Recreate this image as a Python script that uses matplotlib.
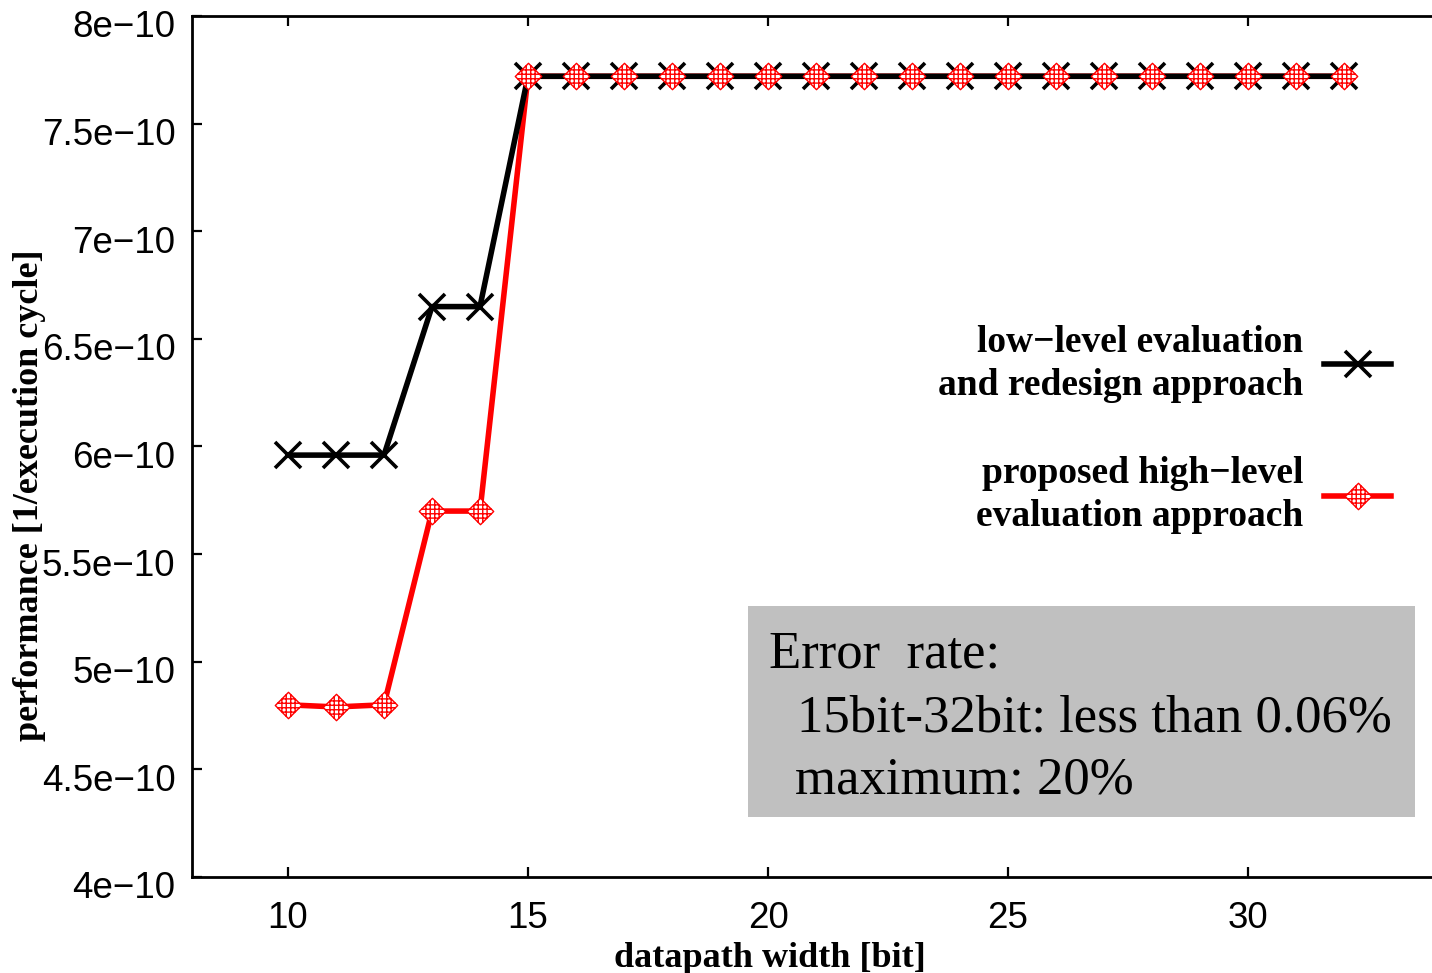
import numpy as np
import matplotlib
matplotlib.use("Agg")
import matplotlib.pyplot as plt
from matplotlib.path import Path
from matplotlib.patches import Rectangle
from matplotlib.ticker import FuncFormatter, FixedLocator
from matplotlib.transforms import ScaledTranslation
from matplotlib.legend_handler import HandlerTuple

# datapath width [bit] and performance [1/execution cycle]
width_bits = [10, 11, 12, 13, 14, 15, 16, 17, 18, 19, 20, 21,
              22, 23, 24, 25, 26, 27, 28, 29, 30, 31, 32]
low_level = [5.96e-10, 5.96e-10, 5.96e-10, 6.65e-10, 6.65e-10, 7.72e-10,
             7.72e-10, 7.72e-10, 7.72e-10, 7.72e-10, 7.72e-10, 7.72e-10,
             7.72e-10, 7.72e-10, 7.72e-10, 7.72e-10, 7.72e-10, 7.72e-10,
             7.72e-10, 7.72e-10, 7.72e-10, 7.72e-10, 7.72e-10]
high_level = [4.80e-10, 4.79e-10, 4.80e-10, 5.70e-10, 5.70e-10, 7.72e-10,
              7.72e-10, 7.72e-10, 7.72e-10, 7.72e-10, 7.72e-10, 7.72e-10,
              7.72e-10, 7.72e-10, 7.72e-10, 7.72e-10, 7.72e-10, 7.72e-10,
              7.72e-10, 7.72e-10, 7.72e-10, 7.72e-10, 7.72e-10]

x_ticks = [10, 15, 20, 25, 30]
y_ticks = [4e-10, 4.5e-10, 5e-10, 5.5e-10, 6e-10, 6.5e-10, 7e-10, 7.5e-10, 8e-10]

label_low = "low\u2212level evaluation\nand redesign approach"
label_high = "proposed high\u2212level\nevaluation approach"
note_lines = ["Error  rate:", "15bit-32bit: less than 0.06%", "maximum: 20%"]

# diamond with a grid inside, like gnuplot's hatched point
verts = [(0, 1), (1, 0), (0, -1), (-1, 0), (0, 1)]
codes = [Path.MOVETO, Path.LINETO, Path.LINETO, Path.LINETO, Path.CLOSEPOLY]
for c in (-0.5, -0.17, 0.17, 0.5):
    h = 1 - abs(c)
    verts += [(c, -h), (c, h), (-h, c), (h, c)]
    codes += [Path.MOVETO, Path.LINETO, Path.MOVETO, Path.LINETO]
grid_diamond = Path(verts, codes)

W, H = 1432, 973
fig = plt.figure(figsize=(W / 100, H / 100), dpi=100)
ax = fig.add_axes([192 / W, 96 / H, 1248 / W, 861 / H])

red_line, = ax.plot(width_bits, high_level, color="red", lw=4, zorder=2)
black, = ax.plot(width_bits, low_level, color="black", lw=4,
                 marker="x", ms=19, mew=2.6, zorder=3)
red_pts, = ax.plot(width_bits, high_level, ls="none", marker=grid_diamond,
                   ms=19, mfc="white", mec="red", mew=1.0, zorder=4)

ax.set_xlim(8, 34)
ax.set_ylim(4e-10, 8e-10)
ax.xaxis.set_major_locator(FixedLocator(x_ticks))
ax.yaxis.set_major_locator(FixedLocator(y_ticks))
ax.yaxis.set_major_formatter(FuncFormatter(lambda v, p: f"{v / 1e-10:g}e\u221210"))

for s in ax.spines.values():
    s.set_linewidth(2)
ax.tick_params(direction="in", length=7, width=1.6, top=True, right=False,
               labelsize=26.5, pad=12)
ax.tick_params(axis="x", pad=17)
for t in ax.get_xticklabels() + ax.get_yticklabels():
    t.set_family("Liberation Sans")
# gnuplot sets the y labels a little below their ticks
shift = ScaledTranslation(0, -8 / 100, fig.dpi_scale_trans)
for t in ax.get_yticklabels():
    t.set_transform(t.get_transform() + shift)

ax.set_xlabel("datapath width [bit]", family="Liberation Serif",
              fontweight="bold", fontsize=26)
ax.set_ylabel("performance [1/execution cycle]", family="Liberation Serif",
              fontweight="bold", fontsize=26)
ax.xaxis.set_label_coords((770 - 192) / 1248, (877 - 942) / 861)
ax.yaxis.set_label_coords((46 - 192) / 1248, (877 - 495) / 861)

leg = ax.legend([black, (red_line, red_pts)], [label_low, label_high],
                handler_map={tuple: HandlerTuple(ndivide=1)},
                loc="upper right", bbox_to_anchor=(1410 / W, 1 - 306 / H),
                bbox_transform=fig.transFigure, frameon=False, markerfirst=False,
                borderpad=0, handlelength=1.8, handletextpad=0.55,
                labelspacing=1.42,
                prop={"family": "Liberation Serif", "weight": "bold", "size": 27})
for t in leg.get_texts():
    t.set_multialignment("right")
    t.set_linespacing(1.3)

# error-rate note in a grey box
fig.patches.append(Rectangle((748 / W, 1 - 817 / H), 667 / W, 211 / H,
                             transform=fig.transFigure, facecolor="#c0c0c0",
                             edgecolor="none", zorder=5))
for txt, x, y in zip(note_lines, (769, 797, 795), (667, 732, 793)):
    fig.text(x / W, 1 - y / H, txt, family="Liberation Serif", fontsize=38,
             va="baseline", ha="left", zorder=6)

fig.savefig("out.png", dpi=100)
